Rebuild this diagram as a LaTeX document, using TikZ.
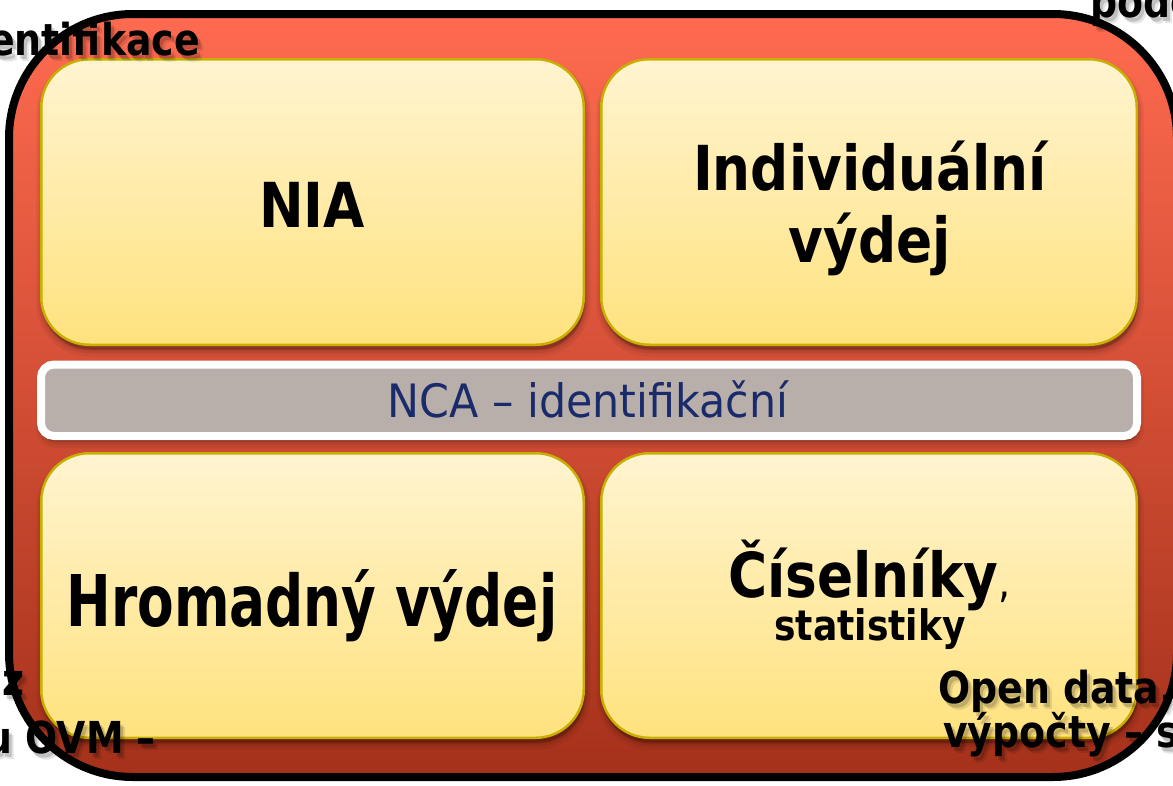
\documentclass[tikz,border=0pt]{standalone}
\usepackage{fontspec}
\usepackage{graphicx}
\setmainfont{DejaVu Sans}[FakeStretch=0.86]
\newfontfamily\ncafont{DejaVu Sans}[FakeStretch=0.93]
\usetikzlibrary{calc}
\definecolor{redtop}{HTML}{FF6B50}
\definecolor{redmid}{HTML}{EA4C29}
\definecolor{redbot}{HTML}{A5311A}
\definecolor{yeltop}{HTML}{FFF4D0}
\definecolor{yelbot}{HTML}{FFE27E}
\definecolor{yelline}{HTML}{C8B000}
\definecolor{bargrey}{HTML}{B9AFAA}
\definecolor{ncablue}{HTML}{1A2B6B}
\newcommand\softshadow[5]{%
  \foreach \w/\o/\d in {12/0.05/6,7/0.07/5,3/0.10/4}{
    \fill[black, fill opacity=\o, draw=black, draw opacity=\o, line width=\w pt, rounded corners=#5pt]
      (#1+1,#2+\d) rectangle (#3+1,#4+\d);
  }}
\newcommand\shtext[4]{% name, coordinate, anchor, content
  \node[outtext, anchor=#3, text=black, opacity=0.10] (#1s2) at ($(#2)+(5,6)$) {#4};
  \node[outtext, anchor=#3, text=black, opacity=0.16] (#1s) at ($(#2)+(3,4)$) {#4};
  \node[outtext, anchor=#3] (#1) at (#2) {#4};}
\begin{document}
\begin{tikzpicture}[x=1pt,y=-1pt,
  frame/.style={draw=black, line width=8pt, rounded corners=124pt, top color=redtop, middle color=redmid, bottom color=redbot, inner sep=0pt},
  tile/.style={draw=yelline, line width=2.5pt, top color=yeltop, bottom color=yelbot, rounded corners=48pt, inner sep=0pt},
  bar/.style={draw=white, line width=8pt, fill=bargrey, rounded corners=13pt, inner sep=0pt},
  big/.style={inner sep=0pt, font=\fontsize{62}{72}\selectfont\bfseries},
  small/.style={inner sep=0pt, font=\fontsize{42}{50}\selectfont\bfseries},
  ncatext/.style={inner sep=0pt, text=ncablue, font=\ncafont\fontsize{46}{54}\selectfont},
  outtext/.style={inner sep=0pt, font=\fontsize{44}{52}\selectfont\bfseries},
]
\useasboundingbox (0,0) rectangle (1173,785);
\clip (0,0) rectangle (1173,785);
\fill[white] (0,0) rectangle (1173,785);

% outer frame
\node[frame, minimum width=1168pt, minimum height=763pt] (outer) at (593,395.5) {};

% shadows
\softshadow{41.25}{59.25}{583.75}{344.75}{48}
\softshadow{601.25}{59.25}{1136.75}{344.75}{48}
\softshadow{41.25}{453.25}{583.75}{737.75}{48}
\softshadow{601.25}{453.25}{1136.75}{737.75}{48}
\softshadow{41}{364.5}{1137}{436}{13}

% tiles
\node[tile, minimum width=542.5pt, minimum height=285.5pt] (nia) at (312.5,202) {};
\node[tile, minimum width=535.5pt, minimum height=285.5pt] (indiv) at (869,202) {};
\node[tile, minimum width=542.5pt, minimum height=284.5pt] (hrom) at (312.5,595.5) {};
\node[tile, minimum width=535.5pt, minimum height=284.5pt] (cis) at (869,595.5) {};

% bar
\node[bar, minimum width=1096pt, minimum height=71.5pt] (nca) at (589,400.25) {};
\node[ncatext, anchor=base] (ncat) at (588,417) {NCA – identifikační};

% tile texts
\node[big, anchor=base] (niat) at (312,227) {NIA};
\node[big, anchor=base] (indt1) at (870,190) {Individuální};
\node[big, anchor=base] (indt2) at (870,262) {výdej};
\node[big, anchor=base] (hromt) at (312,626) {\scalebox{1}[1.15]{Hromadný výdej}};
\node[big, anchor=base west] (cist) at (728,597) {Číselníky{\mdseries\fontsize{44}{50}\selectfont,}};
\node[small, anchor=base] (statt) at (870,640) {statistiky};

% partial outside texts
\shtext{tl0}{214,-7}{base east}{Elektronická}
\shtext{tl1}{200,55}{base east}{identifikace}
\shtext{tr1}{1090,17}{base west}{podo}
\shtext{bl1}{25,695}{base east}{z}
\shtext{bl2}{156,753}{base east}{u OVM –}
\shtext{br1}{938,703}{base west}{Open data,}
\shtext{br2}{943,747}{base west}{výpočty – s}
\end{tikzpicture}
\end{document}
